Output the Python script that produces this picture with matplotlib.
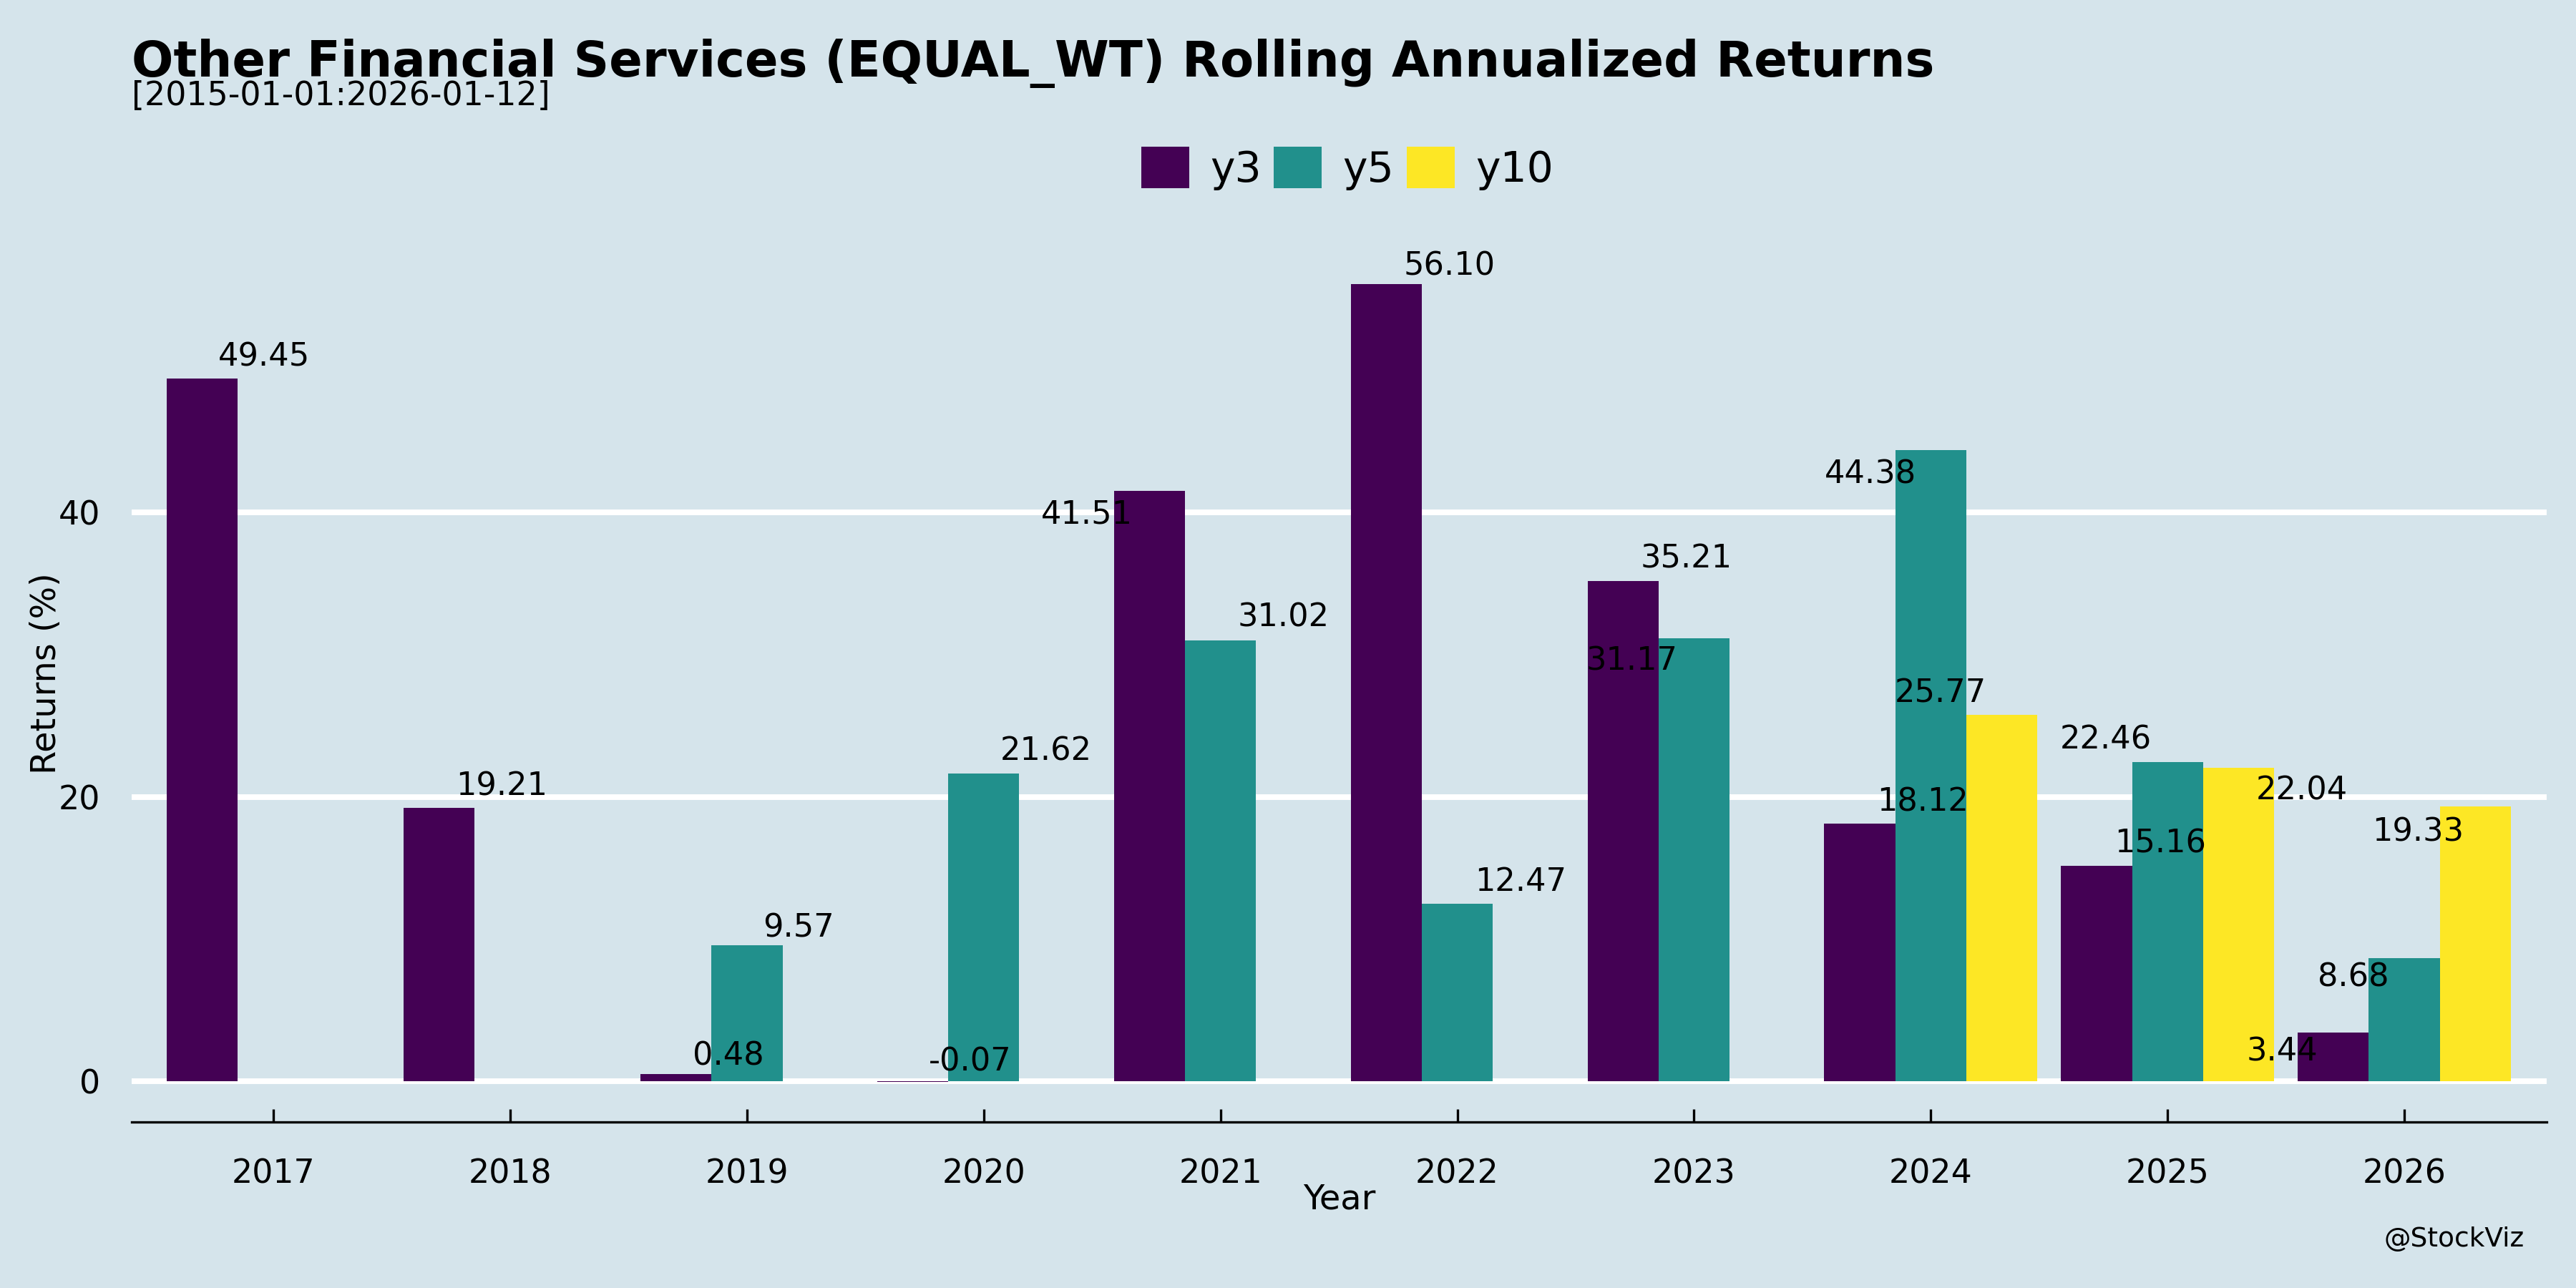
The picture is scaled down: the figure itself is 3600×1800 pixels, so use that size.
import numpy as np
import matplotlib
matplotlib.use('Agg')
import matplotlib.pyplot as plt
from matplotlib.patches import Patch

years = ['2017', '2018', '2019', '2020', '2021', '2022', '2023', '2024', '2025', '2026']
y3 = [49.45, 19.21, 0.48, -0.07, 41.51, 56.10, 35.21, 18.12, 15.16, 3.44]
y5 = [np.nan, np.nan, 9.57, 21.62, 31.02, 12.47, 31.17, 44.38, 22.46, 8.68]
y10 = [np.nan, np.nan, np.nan, np.nan, np.nan, np.nan, np.nan, 25.77, 22.04, 19.33]

# label jitter as seen in the picture (x in year units, y in % units)
y3_dx = [-0.039, -0.036, -0.08, -0.058, -0.566, -0.034, -0.032, -0.033, -0.031, -0.516]
y3_dy = [1.48, 1.54, 1.28, 1.43, -1.66, 1.24, 1.55, 1.52, 1.53, -1.40]
y5_dx = [0, 0, 0.217, 0.263, 0.265, 0.267, -0.263, -0.255, -0.26, -0.216]
y5_dy = [0, 0, 1.22, 1.58, 1.61, 1.55, -1.64, -1.67, 1.54, -1.37]
y10_dx = [0, 0, 0, 0, 0, 0, 0, 0.04, 0.568, 0.059]
y10_dy = [0, 0, 0, 0, 0, 0, 0, 1.51, -1.62, -1.83]

series = [('y3', y3, '#440154', y3_dx, y3_dy),
          ('y5', y5, '#21908c', y5_dx, y5_dy),
          ('y10', y10, '#fde725', y10_dx, y10_dy)]

bg = '#d5e4eb'
fig = plt.figure(figsize=(12, 6), dpi=300, facecolor=bg)
ax = fig.add_axes([0.051, 0.1288, 0.9375, 0.6818], facecolor=bg)

x = np.arange(len(years))
w = 0.3
for i, (name, vals, col, dx, dy) in enumerate(series):
    pos = x + (i - 1) * w
    vals = np.array(vals, dtype=float)
    ax.bar(pos, vals, width=w, color=col, linewidth=0, zorder=3)
    for j, v in enumerate(vals):
        if np.isnan(v):
            continue
        ax.text(x[j] + dx[j], v + dy[j], '%.2f' % v, ha='center', va='center',
                fontsize=10.75, color='black', zorder=4)

ax.set_xlim(-0.6, 9.6)
ax.set_ylim(-2.88, 58.9)
ax.set_yticks([0, 20, 40])
ax.yaxis.grid(True, color='white', linewidth=1.9, zorder=1)
ax.xaxis.grid(False)
ax.set_axisbelow(True)
for s in ['top', 'right', 'left']:
    ax.spines[s].set_visible(False)
ax.spines['bottom'].set_linewidth(0.8)
ax.spines['bottom'].set_color('black')
ax.set_xticks(x)
ax.set_xticklabels(years)
ax.tick_params(axis='x', direction='in', length=4.4, width=0.8, pad=12, labelsize=11)
ax.tick_params(axis='y', length=0, pad=10.5, labelsize=11)

fig.text(0.051, 0.951, 'Other Financial Services (EQUAL_WT) Rolling Annualized Returns',
         fontsize=16.5, fontweight='bold', ha='left', va='center')
fig.text(0.051, 0.925, '[2015-01-01:2026-01-12]', fontsize=11, ha='left', va='center')
fig.text(0.52, 0.069, 'Year', fontsize=11.5, ha='center', va='center')
fig.text(0.018, 0.477, 'Returns (%)', fontsize=11.5, ha='center', va='center', rotation=90)
fig.text(0.98, 0.038, '@StockViz', fontsize=9, ha='right', va='center')

handles = [Patch(facecolor=c, edgecolor='none', label=n) for n, _, c, _, _ in series]
fig.legend(handles=handles, loc='center', bbox_to_anchor=(0.523, 0.869), ncol=3,
           frameon=False, fontsize=14, handlelength=1.15, handleheight=1.15,
           handletextpad=0.5, columnspacing=0.3)

fig.savefig('out.png', dpi=300, facecolor=bg)
